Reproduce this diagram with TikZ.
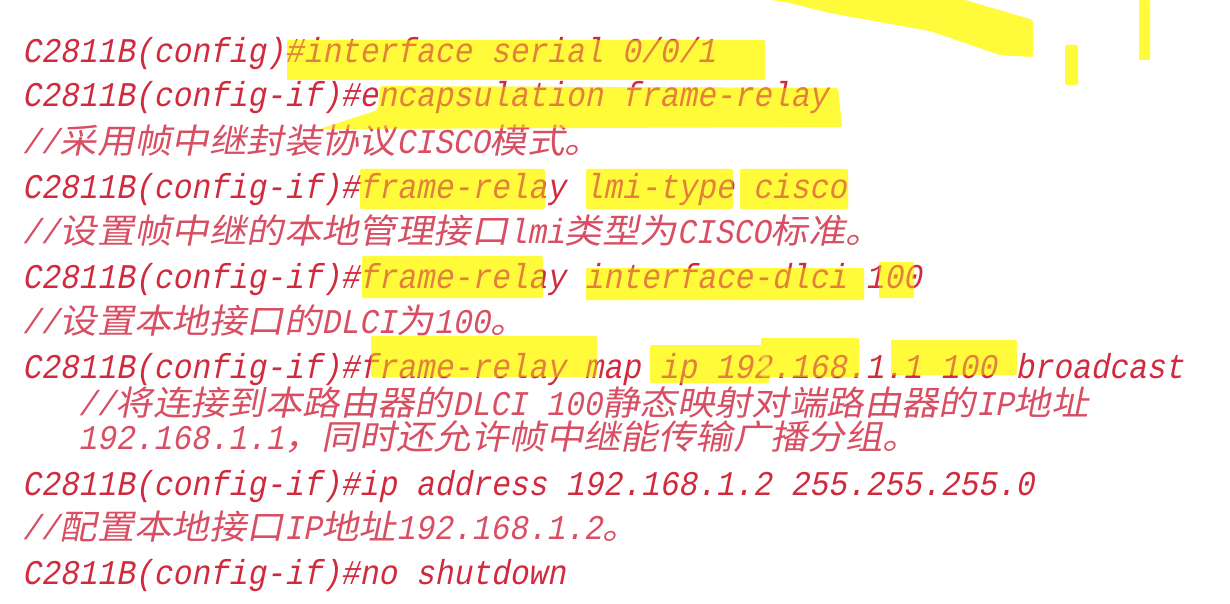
\documentclass[tikz,border=0pt]{standalone}
\usepackage{fontspec}
\usepackage{tikz}
\usetikzlibrary{positioning}
\newfontfamily\latfont[FakeSlant=0.2,FakeStretch=0.9]{Liberation Mono}
\newfontfamily\zhfont[FakeSlant=0.2,FakeStretch=1.1]{Noto Sans CJK SC}
\newcommand\zh[1]{{\zhfont\fontsize{34}{38}\selectfont #1}}
\definecolor{cmdred}{RGB}{208,42,62}
\definecolor{notered}{RGB}{216,78,98}
\definecolor{marker}{RGB}{255,250,58}
\pgfdeclarelayer{background}
\pgfsetlayers{background,main}
% highlighter stroke: solid under the text, thin wash over it
\newcommand\hlmark[1]{%
  \begin{pgfonlayer}{background}\fill[hl] #1;\end{pgfonlayer}
  \fill[hl,fill opacity=.42] #1;}

\begin{document}
\begin{tikzpicture}[x=1pt,y=-1pt]
      \tikzstyle{cmd}=[anchor=base west,inner sep=0pt,text=cmdred,font=\latfont\fontsize{34.7}{40}\selectfont]
      \tikzstyle{note}=[cmd,text=notered]
      \tikzstyle{hl}=[fill=marker,rounded corners=2pt]

      \useasboundingbox (0,0) rectangle (1230,604);

      \node[cmd](if1) at (22,63){C2811B(config)\#interface serial 0/0/1};
      \node[cmd](enc) at (22,107){C2811B(config-if)\#encapsulation frame-relay};
      \node[note](c1) at (22,154){//\zh{采用帧中继封装协议}CISCO\zh{模式。}};
      \node[cmd](lmi) at (22,198){C2811B(config-if)\#frame-relay lmi-type cisco};
      \node[note](c2) at (22,243){//\zh{设置帧中继的本地管理接口}lmi\zh{类型为}CISCO\zh{标准。}};
      \node[cmd](dlci) at (22,288){C2811B(config-if)\#frame-relay interface-dlci 100};
      \node[note](c3) at (22,333){//\zh{设置本地接口的}DLCI\zh{为}100\zh{。}};
      \node[cmd](map) at (22,378){C2811B(config-if)\#frame-relay map ip 192.168.1.1 100 broadcast};
      \node[note](c4a) at (78,415){//\zh{将连接到本路由器的}DLCI 100\zh{静态映射对端路由器的}IP\zh{地址}};
      \node[note](c4b) at (78,449){192.168.1.1\zh{，同时还允许帧中继能传输广播分组。}};
      \node[cmd](ip) at (22,495){C2811B(config-if)\#ip address 192.168.1.2 255.255.255.0};
      \node[note](c5) at (22,539){//\zh{配置本地接口}IP\zh{地址}192.168.1.2\zh{。}};
      \node[cmd](nosh) at (22,584){C2811B(config-if)\#no shutdown};

      % highlighter marks
      \hlmark{(287,40) rectangle (765,80)}
      \hlmark{(380,86) -- (838,88) -- (842,127) -- (320,129) -- (378,110) -- cycle}
      \hlmark{(360,169) rectangle (545,209)}
      \hlmark{(586,169) rectangle (733,209)}
      \hlmark{(740,169) rectangle (848,209)}
      \hlmark{(362,256) rectangle (543,298)}
      \hlmark{(586,268) rectangle (864,300)}
      \hlmark{(879,262) rectangle (914,298)}
      \hlmark{(371,336) rectangle (597,377)}
      \hlmark{(650,345) rectangle (769,383)}
      \hlmark{(761,338) rectangle (859,377)}
      \hlmark{(891,340) rectangle (1017,375)}
      \hlmark{(772,0) -- (965,0) -- (1033,20) -- (1033,57) -- (1000,55) -- (930,31) -- (830,13) -- (790,3) -- cycle}
      \hlmark{(1065,45) rectangle (1078,85)}
      \hlmark{(1139,0) rectangle (1150,60)}
    \end{tikzpicture}
\end{document}
